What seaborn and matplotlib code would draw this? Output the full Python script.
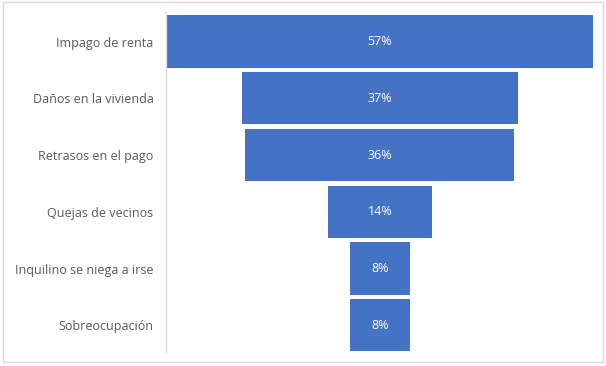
import numpy as np
import pandas as pd
import matplotlib.pyplot as plt
from matplotlib.patches import Rectangle
import seaborn as sns

# Data
categories = ["Impago de renta", "Daños en la vivienda", "Retrasos en el pago",
              "Quejas de vecinos", "Inquilino se niega a irse", "Sobreocupación"]
shares = [57, 37, 36, 14, 8, 8]

BAR_COLOR = "#4472C4"
LABEL_COLOR = "#595959"

sns.set_theme(style="white")
plt.rcParams["font.family"] = ["Open Sans", "DejaVu Sans"]

df = pd.DataFrame({"categoria": categories, "pct": shares})

fig = plt.figure(figsize=(6.06, 3.66), dpi=100)
W, H = 606, 366
ax = fig.add_axes([166 / W, 1 - 352 / H, (596 - 166) / W, (352 - 12) / H])

sns.barplot(data=df, x="pct", y="categoria", color=BAR_COLOR, saturation=1,
            width=0.92, ax=ax, orient="h")

# centre each bar on zero to get the funnel shape
for patch, val in zip(ax.patches, df["pct"]):
    patch.set_x(-val / 2)
    patch.set_edgecolor("none")
    ax.text(0, patch.get_y() + patch.get_height() / 2, f"{val}%",
            ha="center", va="center", color="white", fontsize=9)

half = max(shares) / 2
ax.set_xlim(-half - 0.13, half + 0.42)
ax.set_ylim(5.47, -0.52)

ax.set_xlabel("")
ax.set_ylabel("")
ax.set_xticks([])
ax.tick_params(axis="y", length=0, pad=9, labelsize=9, labelcolor=LABEL_COLOR)
for side in ["top", "right", "bottom"]:
    ax.spines[side].set_visible(False)
ax.spines["left"].set_color("#D9D9D9")
ax.spines["left"].set_linewidth(1)

# light frame around the chart area
fig.patches.append(Rectangle((3 / W, 1 - 362 / H), 600 / W, 360 / H,
                             transform=fig.transFigure, fill=False,
                             edgecolor="#D9D9D9", linewidth=1))

fig.savefig("out.png", dpi=100)
